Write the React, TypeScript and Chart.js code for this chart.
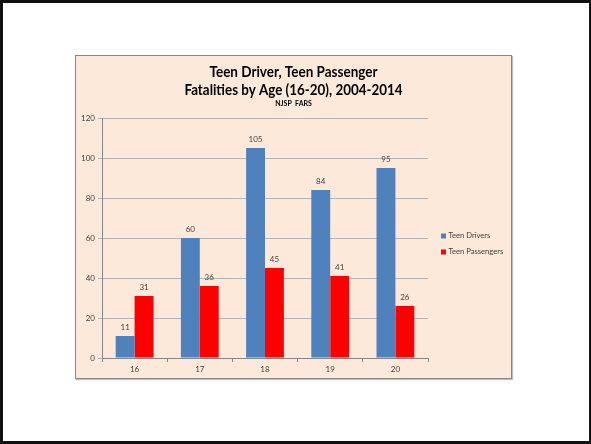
import React, { useEffect, useRef } from "react";
import { Chart, registerables } from "chart.js";

Chart.register(...registerables);

const categories = ["16", "17", "18", "19", "20"];
const teenDrivers = [11, 60, 105, 84, 95];
const teenPassengers = [31, 36, 45, 41, 26];
const seriesNames = ["Teen Drivers", "Teen Passengers"];
const titleLines = ["Teen Driver, Teen Passenger", "Fatalities by Age (16-20), 2004-2014"];
const subtitleText = "NJSP  FARS";
const yMin = 0;
const yMax = 120;
const yStep = 20;

const BLUE = "#4F81BD";
const RED = "#FF0000";
const TEXT = "#404040";
const FONT = "Lato, 'Liberation Sans', sans-serif";

const W = 435;
const H = 322;

const decorPlugin = {
  id: "decor",
  afterDraw(chart: any) {
    const ctx = chart.ctx as CanvasRenderingContext2D;
    ctx.save();
    ctx.fillStyle = "#000000";
    ctx.textAlign = "center";
    ctx.textBaseline = "middle";
    const cx = W / 2;
    const targets = [168, 218];
    const ys = [16.5, 34];
    titleLines.forEach((line, i) => {
      ctx.font = `bold 15px ${FONT}`;
      const m = ctx.measureText(line).width;
      const sx = targets[i] / m;
      ctx.save();
      ctx.translate(cx, ys[i]);
      ctx.scale(sx, 1);
      ctx.fillText(line, 0, 0);
      ctx.restore();
    });
    ctx.font = `bold 7px ${FONT}`;
    ctx.fillText(subtitleText, cx, 48);

    ctx.font = `8px ${FONT}`;
    ctx.fillStyle = TEXT;
    chart.data.datasets.forEach((ds: any, di: number) => {
      const meta = chart.getDatasetMeta(di);
      meta.data.forEach((bar: any, i: number) => {
        ctx.fillText(String(ds.data[i]), bar.x, bar.y - 9);
      });
    });

    const lx = 365;
    const lys = [180, 196];
    ctx.font = `7.6px ${FONT}`;
    seriesNames.forEach((name, i) => {
      ctx.fillStyle = i === 0 ? BLUE : RED;
      ctx.fillRect(lx, lys[i] - 2.5, 5, 5);
      ctx.fillStyle = TEXT;
      ctx.textAlign = "left";
      ctx.fillText(name, lx + 7.5, lys[i]);
    });
    ctx.restore();
  },
};

export default function App() {
  const ref = useRef<HTMLCanvasElement>(null);
  useEffect(() => {
    document.body.style.margin = "0";
    const canvas = ref.current!;
    const chart = new Chart(canvas, {
      type: "bar",
      data: {
        labels: categories,
        datasets: [
          {
            label: seriesNames[0],
            data: teenDrivers,
            backgroundColor: BLUE,
            categoryPercentage: 0.58,
            barPercentage: 1.0,
          },
          {
            label: seriesNames[1],
            data: teenPassengers,
            backgroundColor: RED,
            categoryPercentage: 0.58,
            barPercentage: 1.0,
          },
        ],
      },
      options: {
        responsive: false,
        animation: false,
        devicePixelRatio: 1,
        layout: { padding: { left: 0, top: 62, right: 83, bottom: 0 } },
        plugins: {
          legend: { display: false },
          title: { display: false },
          tooltip: { enabled: false },
        },
        scales: {
          x: {
            afterFit: (s: any) => {
              s.height = 20;
            },
            grid: {
              offset: true,
              drawOnChartArea: false,
              tickLength: 4,
              color: "#868686",
            },
            border: { color: "#868686" },
            ticks: {
              padding: 3,
              color: TEXT,
              font: { family: FONT, size: 8 },
            },
          },
          y: {
            min: yMin,
            max: yMax,
            afterFit: (s: any) => {
              s.width = 26;
            },
            grid: {
              color: "#B4B4B4",
              tickLength: 4,
            },
            border: { color: "#868686" },
            ticks: {
              stepSize: yStep,
              padding: 3,
              color: TEXT,
              font: { family: FONT, size: 8 },
            },
          },
        },
      },
      plugins: [decorPlugin],
    });
    return () => chart.destroy();
  }, []);

  return (
    <div
      style={{
        position: "fixed",
        left: 0,
        top: 0,
        width: 591,
        height: 444,
        boxSizing: "border-box",
        borderStyle: "solid",
        borderColor: "#111",
        borderWidth: "3px 2px 3px 3px",
        background: "#fff",
      }}
    >
      <div
        style={{
          position: "absolute",
          left: 72,
          top: 52,
          width: W,
          height: H,
          background: "#FDE9D9",
          border: "1px solid #868686",
          boxShadow: "1px 1px 1px rgba(0,0,0,0.25)",
        }}
      >
        <canvas ref={ref} width={W} height={H} style={{ display: "block", width: W, height: H }} />
      </div>
    </div>
  );
}
